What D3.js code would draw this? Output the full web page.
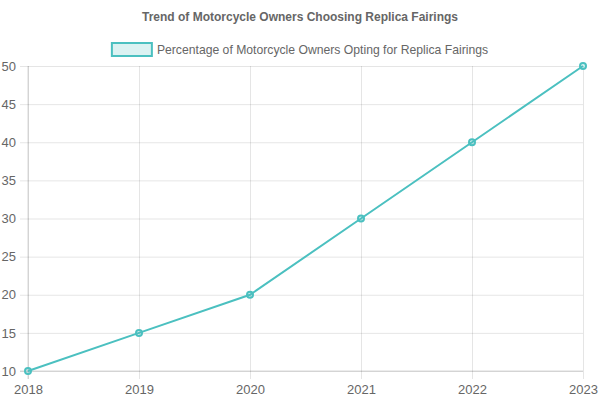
<!DOCTYPE html>
<html>
<head>
<meta charset="utf-8">
<script src="https://cdn.jsdelivr.net/npm/d3@7"></script>
<style>
  body { margin: 0; background: #fff; }
  text { font-family: "Liberation Sans", Arial, Helvetica, sans-serif; }
</style>
</head>
<body>
<div id="chart"></div>
<script>
const years = [2018, 2019, 2020, 2021, 2022, 2023];
const percentages = [10, 15, 20, 30, 40, 50];
const yTicks = [10, 15, 20, 25, 30, 35, 40, 45, 50];
const seriesLabel = "Percentage of Motorcycle Owners Opting for Replica Fairings";
const chartTitle = "Trend of Motorcycle Owners Choosing Replica Fairings";

const width = 600, height = 400;
const margin = { top: 66, right: 17, bottom: 29, left: 28 };
const lineColor = "#4bc0c0";
const fillColor = "rgba(75,192,192,0.2)";
const gridColor = "rgba(0,0,0,0.1)";
const textColor = "#666";

const svg = d3.select("#chart").append("svg")
    .attr("width", width)
    .attr("height", height);

const x = d3.scalePoint()
    .domain(years)
    .range([margin.left, width - margin.right]);

const y = d3.scaleLinear()
    .domain([10, 50])
    .range([height - margin.bottom, margin.top]);

// Title
svg.append("text")
    .attr("x", width / 2)
    .attr("y", 21)
    .attr("text-anchor", "middle")
    .attr("font-size", 12)
    .attr("font-weight", "bold")
    .attr("fill", textColor)
    .text(chartTitle);

// Legend
const legend = svg.append("g");
const legendText = legend.append("text")
    .attr("y", 54)
    .attr("font-size", 12.2)
    .attr("fill", textColor)
    .text(seriesLabel);
const tw = legendText.node().getComputedTextLength();
const boxW = 40, gap = 5;
const startX = (width - (boxW + gap + tw)) / 2;
legend.append("rect")
    .attr("x", startX)
    .attr("y", 43)
    .attr("width", boxW)
    .attr("height", 13)
    .attr("fill", fillColor)
    .attr("stroke", lineColor)
    .attr("stroke-width", 2);
legendText.attr("x", startX + boxW + gap);

// Y grid + axis
const yAxis = svg.append("g")
    .attr("transform", `translate(${margin.left},0)`)
    .call(d3.axisLeft(y).tickValues(yTicks)
        .tickSize(-(width - margin.left - margin.right))
        .tickPadding(12));
yAxis.select(".domain").remove();
yAxis.selectAll(".tick line")
    .attr("x1", -8)
    .attr("stroke", gridColor);
yAxis.selectAll(".tick text")
    .attr("fill", textColor)
    .attr("font-size", 13)
    .attr("font-family", "Liberation Sans, Arial, sans-serif");

// X grid + axis
const xAxis = svg.append("g")
    .attr("transform", `translate(0,${height - margin.bottom})`)
    .call(d3.axisBottom(x)
        .tickSize(-(height - margin.top - margin.bottom))
        .tickPadding(14));
xAxis.select(".domain").remove();
xAxis.selectAll(".tick line")
    .attr("y1", 8)
    .attr("stroke", gridColor);
xAxis.selectAll(".tick text")
    .attr("fill", textColor)
    .attr("font-size", 13)
    .attr("font-family", "Liberation Sans, Arial, sans-serif");

// Axis borders
svg.append("line")
    .attr("x1", margin.left).attr("x2", margin.left)
    .attr("y1", margin.top).attr("y2", height - margin.bottom + 8)
    .attr("stroke", "rgba(0,0,0,0.15)");
svg.append("line")
    .attr("x1", margin.left - 8).attr("x2", width - margin.right)
    .attr("y1", height - margin.bottom).attr("y2", height - margin.bottom)
    .attr("stroke", "rgba(0,0,0,0.15)");

// Line
const data = years.map((yr, i) => ({ year: yr, value: percentages[i] }));
const line = d3.line()
    .x(d => x(d.year))
    .y(d => y(d.value));

svg.append("path")
    .datum(data)
    .attr("d", line)
    .attr("fill", "none")
    .attr("stroke", lineColor)
    .attr("stroke-width", 2);

svg.selectAll(".pt")
    .data(data)
    .enter()
    .append("circle")
    .attr("class", "pt")
    .attr("cx", d => x(d.year))
    .attr("cy", d => y(d.value))
    .attr("r", 3)
    .attr("fill", fillColor)
    .attr("stroke", lineColor)
    .attr("stroke-width", 2);
</script>
</body>
</html>
